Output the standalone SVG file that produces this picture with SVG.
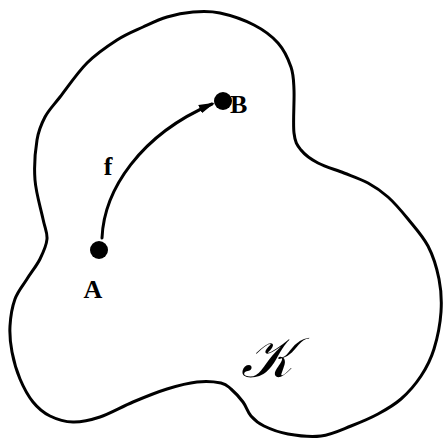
<svg xmlns="http://www.w3.org/2000/svg" width="443" height="439" viewBox="0 0 443 439">
<style>
.ln{fill:none;stroke:#000;stroke-width:3;stroke-linecap:round;stroke-linejoin:round}
.lbl{font-family:"Liberation Serif","DejaVu Serif",serif;font-weight:bold;font-size:26px;fill:#000}
.dot{fill:#000}
</style>
<defs>
<marker id="ah" markerUnits="userSpaceOnUse" markerWidth="16" markerHeight="10" refX="13" refY="5" orient="auto">
<path d="M0,0.5 L16,5 L0,9.5 Z" fill="#000"/>
</marker>
</defs>
<rect width="443" height="439" fill="#fff"/>
<g id="region-K">
<path class="ln" d="M193,12 C201.8,11.3 209.8,10.8 220,13 C230.2,15.2 244.3,20 254,25 C263.7,30 271.8,36 278,43 C284.2,50 288.3,59.2 291,67 C293.7,74.8 293.5,79 294,90 C294.5,101 292.8,123 294,133 C295.2,143 297,145 301,150 C305,155 310.8,159.2 318,163 C325.2,166.8 335.7,169.7 344,173 C352.3,176.3 360.7,179 368,183 C375.3,187 381.3,191 388,197 C394.7,203 401.3,210.8 408,219 C414.7,227.2 422.8,236 428,246 C433.2,256 436.8,268 439,279 C441.2,290 441.8,300.3 441,312 C440.2,323.7 437.3,338.3 434,349 C430.7,359.7 426.5,367.7 421,376 C415.5,384.3 408.2,392.7 401,399 C393.8,405.3 386.3,409.5 378,414 C369.7,418.5 360.5,422.3 351,426 C341.5,429.7 331.5,434.7 321,436 C310.5,437.3 297.5,435.7 288,434 C278.5,432.3 270.2,429 264,426 C257.8,423 254.5,420 251,416 C247.5,412 246.3,406.5 243,402 C239.7,397.5 234.7,392.2 231,389 C227.3,385.8 226.7,384.2 221,383 C215.3,381.8 206,381 197,382 C188,383 177.7,385.7 167,389 C156.3,392.3 144.2,397.3 133,402 C121.8,406.7 110,413.7 100,417 C90,420.3 81.3,422.2 73,422 C64.7,421.8 56.7,419.3 50,416 C43.3,412.7 38,408.2 33,402 C28,395.8 23.5,387.3 20,379 C16.5,370.7 13.7,360.8 12,352 C10.3,343.2 9.5,334.8 10,326 C10.5,317.2 12.2,306.8 15,299 C17.8,291.2 22.8,285.7 27,279 C31.2,272.3 36.7,265.7 40,259 C43.3,252.3 46.5,245.7 47,239 C47.5,232.3 45,228.8 43,219 C41,209.2 36,193.2 35,180 C34,166.8 35.3,150.5 37,140 C38.7,129.5 41.2,124.2 45,117 C48.8,109.8 53,106 60,97 C67,88 77.5,72.5 87,63 C96.5,53.5 107.7,46 117,40 C126.3,34 134.7,30.8 143,27 C151.3,23.2 158.7,19.5 167,17 C175.3,14.5 184.2,12.7 193,12 Z"/>
<text x="267" y="377" text-anchor="middle" font-family="'DejaVu Serif','DejaVu Sans',serif" font-style="italic" font-size="56" fill="#000">𝒦</text>
</g>
<g id="node-A">
<circle class="dot" cx="99" cy="250" r="9"/>
<text class="lbl" x="93" y="298" text-anchor="middle">A</text>
</g>
<g id="node-B">
<circle class="dot" cx="223" cy="101" r="9"/>
<text class="lbl" x="230" y="113">B</text>
</g>
<g id="connectors">
<path class="ln" d="M102,238 C104,190 140,135 212,104" marker-end="url(#ah)"/>
<text class="lbl" x="108" y="175" text-anchor="middle">f</text>
</g>
</svg>
